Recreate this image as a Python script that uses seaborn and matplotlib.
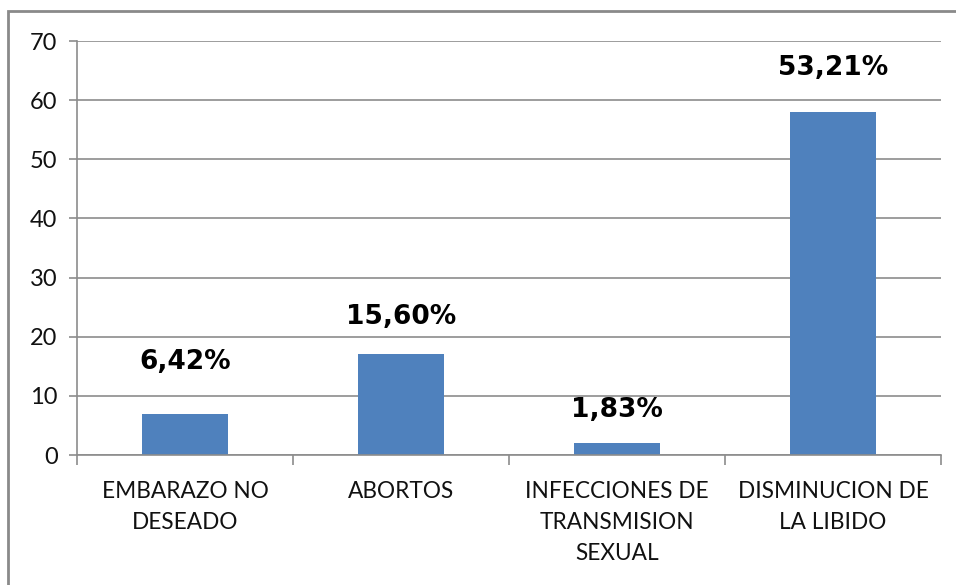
import matplotlib
matplotlib.use("Agg")
import matplotlib.pyplot as plt
from matplotlib.patches import Rectangle
import seaborn as sns
import pandas as pd

# Data: number of cases per consequence (total sample = 109)
categories = ["EMBARAZO NO\nDESEADO", "ABORTOS", "INFECCIONES DE\nTRANSMISION\nSEXUAL", "DISMINUCION DE\nLA LIBIDO"]
counts = [7, 17, 2, 58]
total = 109
y_ticks = [0, 10, 20, 30, 40, 50, 60, 70]

# vertical gap (points) between each bar top and its percentage label
label_gap = [37, 27, 24, 32]

df = pd.DataFrame({"cat": categories, "n": counts})

sns.set_theme(style="white")
plt.rcParams["font.family"] = ["Lato", "DejaVu Sans"]

W, H = 956, 585
fig = plt.figure(figsize=(W / 100, H / 100), dpi=100)
ax = fig.add_axes([77 / W, 1 - 455 / H, (941 - 77) / W, (455 - 41) / H])

sns.barplot(data=df, x="cat", y="n", color="#4F81BD", width=0.4,
            saturation=1, ax=ax, edgecolor="none")

ax.set_ylim(0, 70)
ax.set_xlim(-0.5, len(categories) - 0.5)
ax.set_yticks(y_ticks)
ax.yaxis.grid(True, color="#8c8c8c", linewidth=1.2)
ax.set_axisbelow(True)
ax.set_xlabel("")
ax.set_ylabel("")

for side in ["top", "right"]:
    ax.spines[side].set_visible(False)
for side in ["left", "bottom"]:
    ax.spines[side].set_color("#8c8c8c")
    ax.spines[side].set_linewidth(1.2)

ax.tick_params(axis="y", which="major", length=6, width=1.2, color="#8c8c8c",
               labelsize=17, labelcolor="#111111", pad=8, left=True)
ax.set_xticks(range(len(categories)))
ax.set_xticklabels(categories, linespacing=1.58)
ax.tick_params(axis="x", which="major", length=0, labelsize=16.3,
               labelcolor="#111111", pad=19)
ax.set_xticks([i - 0.5 for i in range(len(categories) + 1)], minor=True)
ax.tick_params(axis="x", which="minor", length=7, width=1.2, color="#8c8c8c",
               bottom=True)

for i, (n, gap) in enumerate(zip(counts, label_gap)):
    pct = f"{100 * n / total:.2f}".replace(".", ",") + "%"
    ax.annotate(pct, (i, n), xytext=(0, gap), textcoords="offset points",
                ha="center", va="center", fontsize=19, fontweight="bold",
                family="DejaVu Sans", color="black")

# outer chart frame
fig.patches.append(Rectangle((8 / W, -0.1), 1.2, 1 - 11 / H + 0.1,
                             transform=fig.transFigure, fill=False,
                             edgecolor="#8a8a8a", linewidth=2))

fig.savefig("out.png", dpi=100)
